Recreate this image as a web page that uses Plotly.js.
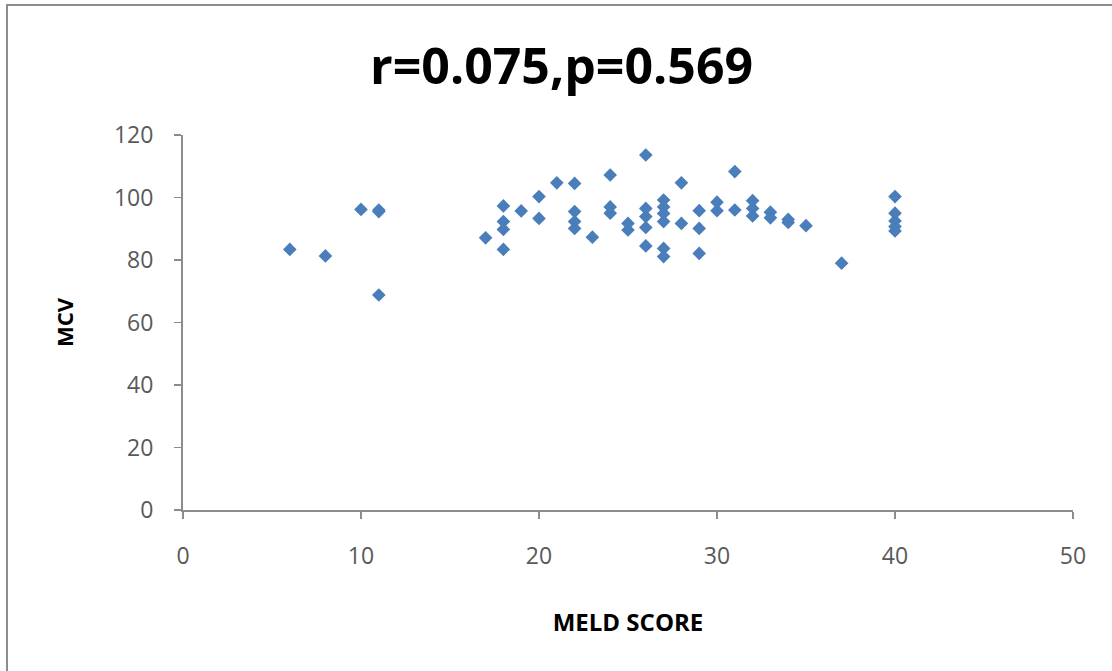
<!DOCTYPE html>
<html>
<head>
<meta charset="utf-8">
<script src="https://cdn.plot.ly/plotly-3.0.1.min.js"></script>
<style>
html,body{margin:0;padding:0;background:#fff;overflow:hidden;}
#frame{position:absolute;left:6px;top:4px;width:1200px;height:800px;border-top:2px solid #8c8c8c;border-left:2px solid #8c8c8c;}
#chart{position:absolute;left:0;top:0;width:1112px;height:671px;}
</style>
</head>
<body>
<div id="frame"></div>
<div id="chart"></div>
<script>
const meldScore = [6, 8, 10, 11, 11, 11,
  17, 18, 18, 18, 18, 19, 20, 20, 21,
  22, 22, 22, 22, 23, 24, 24, 24, 25, 25,
  26, 26, 26, 26, 26,
  27, 27, 27, 27, 27, 27,
  28, 28, 29, 29, 29, 30, 30, 31, 31,
  32, 32, 32, 33, 33, 34, 34, 35, 37,
  40, 40, 40, 40, 40];
const mcv = [83.4, 81.3, 96.2, 96.0, 95.5, 68.8,
  87.1, 97.3, 92.3, 89.8, 83.4, 95.7, 100.3, 93.3, 104.7,
  104.5, 95.5, 92.3, 90.1, 87.3, 107.2, 97.0, 95.0, 91.7, 89.6,
  113.6, 96.5, 93.9, 90.4, 84.5,
  99.2, 97.0, 94.9, 92.3, 83.7, 81.1,
  104.7, 91.7, 95.8, 90.1, 82.1, 98.5, 95.8, 108.3, 96.0,
  99.0, 96.5, 94.1, 95.3, 93.5, 93.0, 92.0, 91.0, 79.0,
  100.3, 95.0, 92.5, 90.7, 89.3];
const xTicks = [0, 10, 20, 30, 40, 50];
const yTicks = [0, 20, 40, 60, 80, 100, 120];
const chartTitle = "r=0.075,p=0.569";
const xTitle = "MELD SCORE";
const yTitle = "MCV";

const trace = {
  x: meldScore, y: mcv, type: 'scatter', mode: 'markers',
  marker: {symbol: 'diamond', size: 10.5, color: '#4A7EBB'},
  hoverinfo: 'x+y'
};
const tickFont = {family: 'Open Sans, sans-serif', size: 23, color: '#595959'};
const layout = {
  width: 1112, height: 671,
  margin: {l: 183, r: 39, t: 135, b: 161},
  paper_bgcolor: 'rgba(0,0,0,0)', plot_bgcolor: 'rgba(0,0,0,0)',
  showlegend: false,
  title: {text: chartTitle, font: {family: 'Open Sans, sans-serif', size: 50, color: '#000', weight: 'bold'},
    x: 0.505, xanchor: 'center', y: 1 - 66/671, yanchor: 'middle', yref: 'container'},
  xaxis: {
    range: [0, 50], tickvals: xTicks, ticktext: xTicks.map(String),
    showgrid: false, zeroline: false, showline: true, linecolor: '#8c8c8c', linewidth: 2,
    ticks: 'outside', ticklen: 7, tickcolor: '#8c8c8c', tickwidth: 1.5,
    ticklabelstandoff: 17,
    tickfont: tickFont,
    title: {text: xTitle, font: {family: 'Open Sans, sans-serif', size: 24, color: '#000', weight: 'bold'}, standoff: 45}
  },
  yaxis: {
    range: [0, 120], tickvals: yTicks, ticktext: yTicks.map(String),
    showgrid: false, zeroline: false, showline: true, linecolor: '#8c8c8c', linewidth: 2,
    ticks: 'outside', ticklen: 7, tickcolor: '#8c8c8c', tickwidth: 1.5,
    ticklabelstandoff: 16,
    tickfont: tickFont,
    title: {text: yTitle, font: {family: 'Open Sans, sans-serif', size: 22, color: '#000', weight: 'bold'}, standoff: 34}
  }
};
Plotly.newPlot('chart', [trace], layout, {displayModeBar: false, staticPlot: true});
</script>
</body>
</html>
